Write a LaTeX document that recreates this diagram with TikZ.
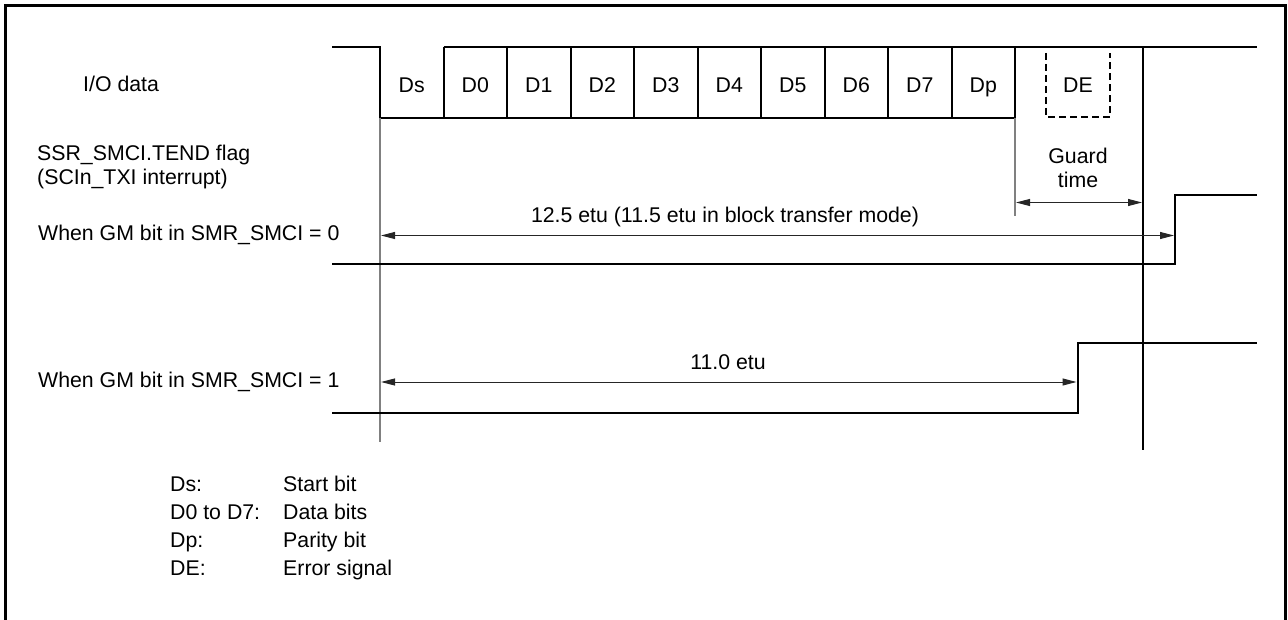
\documentclass[tikz,border=0pt]{standalone}
\usepackage{fontspec}
\setmainfont{Liberation Sans}
\usetikzlibrary{arrows.meta}
\begin{document}
\begin{tikzpicture}[x=1pt,y=-1pt,
  font=\fontsize{21.3}{24}\selectfont,
  frameline/.style={line width=3pt,black},
  wave/.style={line width=2pt,black,line join=miter},
  guide/.style={line width=1.6pt,black!50},
  tline/.style={line width=1.5pt,black},
  dimarrow/.style={line width=1pt,black!85,{Triangle[length=14pt,width=7pt]}-{Triangle[length=14pt,width=7pt]}},
  lbl/.style={anchor=base west,inner sep=0pt},
  clbl/.style={anchor=base,inner sep=0pt}]
\useasboundingbox (0,0) rectangle (1288,620);
% frame (open at the bottom)
\draw[frameline] (5.5,620) -- (5.5,6) -- (1285.5,6) -- (1285.5,620);

% ---- I/O data waveform
\draw[wave] (332,47) -- (380,47) -- (380,118) -- (1015,118) -- (1015,47);
\draw[wave] (443.5,47) -- (1257,47);
\foreach \x in {443.5,507,570.5,634,697.5,761,824.5,888,951.5}
  \draw[wave] (\x,47) -- (\x,118);
\foreach \x/\t/\n in {380/Ds/cs,443.5/D0/c0,507/D1/c1,570.5/D2/c2,634/D3/c3,697.5/D4/c4,761/D5/c5,824.5/D6/c6,888/D7/c7,951.5/Dp/cp}
  \node[clbl] (\n) at (\x+31.75,93) {\t};
\draw[wave,dash pattern=on 7pt off 4pt] (1046,53) -- (1046,117) -- (1110,117) -- (1110,53);
\node[clbl] (cde) at (1078,93) {DE};

% ---- timing guide lines
\draw[guide] (380,118) -- (380,442);
\draw[guide] (1015,118) -- (1015,216);
\draw[tline] (1143,47) -- (1143,450);

% ---- waveforms
\draw[wave] (332,264) -- (1175,264) -- (1175,195.5) -- (1257,195.5);
\draw[wave] (332,412.5) -- (1077.5,412.5) -- (1077.5,343) -- (1257,343);

% ---- dimension arrows
\coordinate (g1) at (1016,202.5);
\coordinate (g2) at (1142,202.5);
\coordinate (a1) at (381,235.5);
\coordinate (a2) at (1174,235.5);
\coordinate (b1) at (381,382);
\coordinate (b2) at (1076.5,382);
\draw[dimarrow] (g1) -- (g2);
\draw[dimarrow] (a1) -- (a2);
\draw[dimarrow] (b1) -- (b2);
\node[clbl] (guard) at (1078,164) {Guard};
\node[clbl] (gtime) at (1078,188) {time};
\node[clbl] (etu125) at (725,223) {12.5 etu (11.5 etu in block transfer mode)};
\node[clbl] (etu110) at (728,369.5) {11.0 etu};

% ---- left labels
\node[lbl] (io) at (83,91.5) {I/O data};
\node[lbl] (flag) at (37,161) {SSR\_SMCI.TEND flag};
\node[lbl] (irq) at (37,184.5) {(SCIn\_TXI interrupt)};
\node[lbl] (gm0) at (38,241) {When GM bit in SMR\_SMCI = 0};
\node[lbl] (gm1) at (38,387) {When GM bit in SMR\_SMCI = 1};

% ---- legend
\node[lbl] (k1) at (170,491.5) {Ds:};
\node[lbl] (k2) at (170,519.5) {D0 to D7:};
\node[lbl] (k3) at (170,547.5) {Dp:};
\node[lbl] (k4) at (170,575.5) {DE:};
\node[lbl] (v1) at (283,491.5) {Start bit};
\node[lbl] (v2) at (283,519.5) {Data bits};
\node[lbl] (v3) at (283,547.5) {Parity bit};
\node[lbl] (v4) at (283,575.5) {Error signal};
\end{tikzpicture}
\end{document}
